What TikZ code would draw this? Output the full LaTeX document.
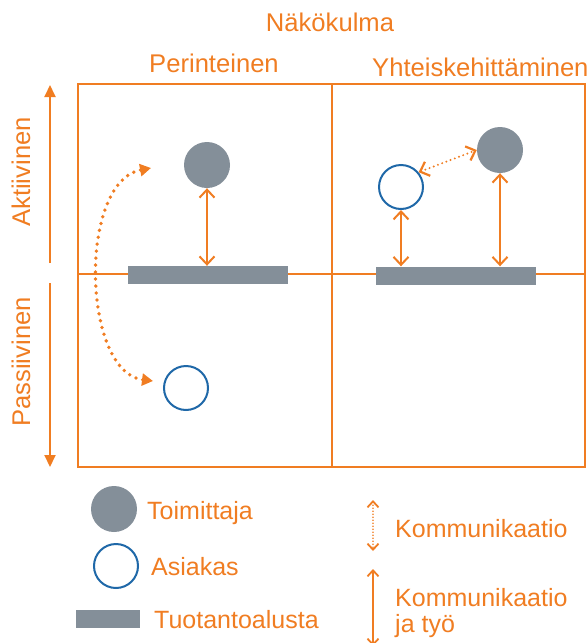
\documentclass[tikz,border=0pt]{standalone}
\usepackage{fontspec}
\setmainfont{Liberation Sans}
\usetikzlibrary{arrows.meta}
\definecolor{orng}{HTML}{F07D22}
\definecolor{slate}{HTML}{848F99}
\definecolor{navy}{HTML}{1F68A8}
\begin{document}
\begin{tikzpicture}[x=1pt,y=-1pt,
  lbl/.style={text=orng,inner sep=0pt,font=\fontsize{25.6}{30}\selectfont},
  leg/.style={text=orng,inner sep=0pt,font=\fontsize{25}{29}\selectfont,anchor=base west},
  supplier/.style={circle,fill=slate,minimum size=46pt,inner sep=0pt},
  customer/.style={circle,draw=navy,line width=2pt,fill=white,minimum size=44pt,inner sep=0pt},
  platform/.style={rectangle,fill=slate,minimum width=160pt,minimum height=18pt,inner sep=0pt},
  gridline/.style={draw=orng,line width=2pt},
  barb/.tip={Straight Barb[length=8pt,width=15pt]},
  work/.style={orng,line width=2pt,barb-barb},
  talk/.style={orng,line width=2.2pt,dash pattern=on 0pt off 4.5pt,line cap=round,barb-barb},
  move/.style={orng,line width=3.8pt,dash pattern=on 0pt off 7pt,line cap=round,
    {Triangle[length=11pt,width=12pt]}-{Triangle[length=11pt,width=12pt]}},
  axis/.style={orng,line width=2pt,-{Triangle[length=12pt,width=11pt]}}
]
\useasboundingbox (0,0) rectangle (588,643);

% headings
\node[lbl,anchor=base] (view) at (330,31) {Näkökulma};
\node[lbl,anchor=base] (trad) at (214,72) {Perinteinen};
\node[lbl,anchor=base west] (co) at (372,76) {Yhteiskehittäminen};

% side axis
\node[lbl,rotate=90] (act) at (21,172) {Aktiivinen};
\node[lbl,rotate=90] (pas) at (21,362) {Passiivinen};
\coordinate (ax1) at (50,263);
\coordinate (ax2) at (50,85);
\coordinate (ax3) at (50,283);
\coordinate (ax4) at (50,467);
\draw[axis] (ax1) -- (ax2);
\draw[axis] (ax3) -- (ax4);

% quadrant grid
\draw[gridline] (78,84) rectangle (585,467);
\draw[gridline] (332,84) -- (332,467);
\draw[gridline] (78,274) -- (585,274);

% traditional column
\node[platform] (plat1) at (208,275) {};
\node[supplier] (sup1) at (207,165) {};
\node[customer] (cust1) at (186,388) {};
\draw[work] (sup1.south) -- (sup1.south |- plat1.north);
\coordinate (mtop) at (151,168);
\coordinate (mbot) at (153,381);
\draw[move] (mbot) .. controls (82,372) and (78,182) .. (mtop);

% co-development column
\node[platform] (plat2) at (456,275.5) {};
\node[supplier] (sup2) at (500,150) {};
\node[customer] (cust2) at (401,187) {};
\draw[work] (cust2.south) -- (cust2.south |- plat2.north);
\draw[work] (sup2.south) -- (sup2.south |- plat2.north);
\draw[talk] (cust2.40) -- (sup2.180);

% legend
\node[supplier] (ls) at (114,509) {};
\node[leg] (lst) at (147,519) {Toimittaja};
\node[customer] (lc) at (116,566) {};
\node[leg] (lct) at (151,575) {Asiakas};
\node[platform,minimum width=64pt] (lp) at (108,619) {};
\node[leg] (lpt) at (154,628) {Tuotantoalusta};

\coordinate (k1a) at (373,500);
\coordinate (k1b) at (373,551);
\draw[orng,line width=1.8pt,dash pattern=on 0pt off 3pt,line cap=round,
  {Straight Barb[length=6pt,width=11pt]}-{Straight Barb[length=6pt,width=11pt]}] (k1a) -- (k1b);
\node[leg] (k1t) at (395,537) {Kommunikaatio};

\coordinate (k2a) at (373,569);
\coordinate (k2b) at (373,646);
\draw[orng,line width=1.8pt,
  {Straight Barb[length=6pt,width=11pt]}-{Straight Barb[length=6pt,width=11pt]}] (k2a) -- (k2b);
\node[leg] (k2t) at (395,606) {Kommunikaatio};
\node[leg] (k2u) at (395,632) {ja työ};
\end{tikzpicture}
\end{document}
